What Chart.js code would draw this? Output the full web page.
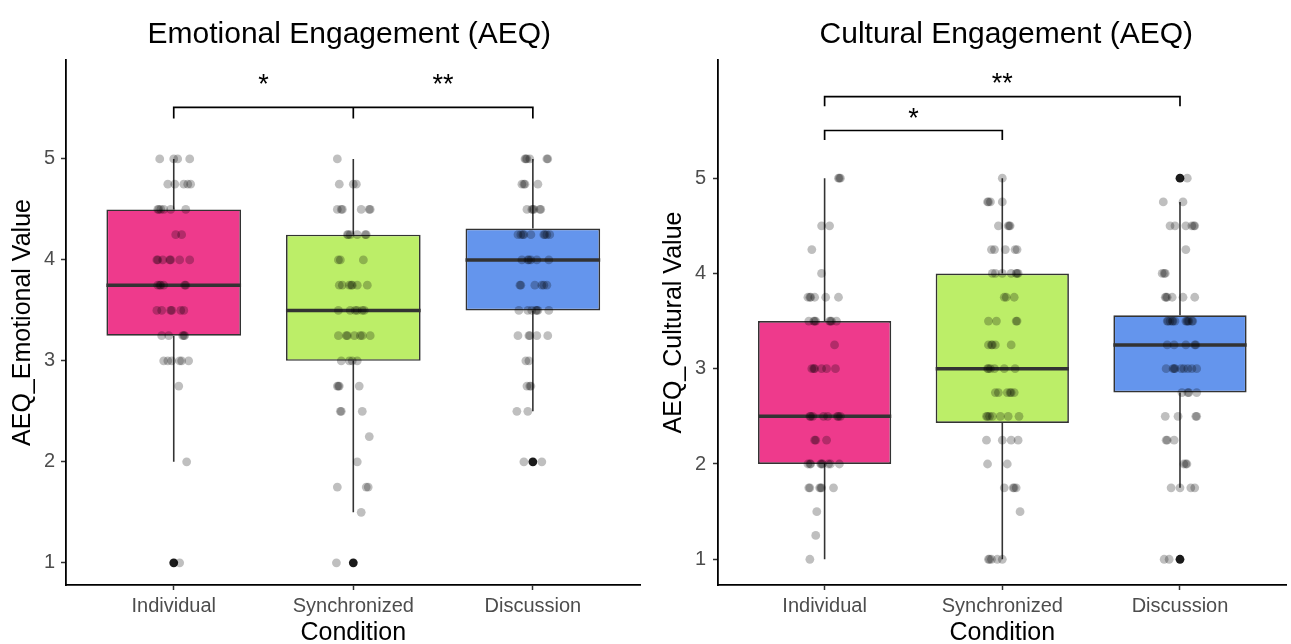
<!DOCTYPE html>
<html>
<head>
<meta charset="utf-8">
<script src="https://cdn.jsdelivr.net/npm/chart.js@4/dist/chart.umd.min.js"></script>
<style>
  html, body { margin: 0; padding: 0; background: #fff; }
  #wrap { position: relative; width: 1291px; height: 644px; }
  canvas { position: absolute; top: 0; }
  #emoChart { left: 0; }
  #culChart { left: 645px; }
</style>
</head>
<body>
<div id="wrap">
  <canvas id="emoChart" width="645" height="644"></canvas>
  <canvas id="culChart" width="646" height="644"></canvas>
</div>
<script>
// ---- data ----
const categories = ['Individual', 'Synchronized', 'Discussion'];
const yTicks = [1, 2, 3, 4, 5];
const boxColors = ['#EE3A8C', '#BCEE68', '#6495ED'];

// Emotional engagement: box stats per condition
const emoLow = [2, 1.5, 2.5];
const emoQ1 = [3.25, 3.0, 3.5];
const emoMed = [3.75, 3.5, 4.0];
const emoQ3 = [4.5, 4.25, 4.31];
const emoHigh = [5, 5, 5];
const emoOutliers = [[1, 1], [2, 1], [3, 2]]; // [condition, value]

// Cultural engagement: box stats per condition
const culLow = [1, 1, 1.75];
const culQ1 = [2, 2.43, 2.75];
const culMed = [2.5, 3, 3.25];
const culQ3 = [3.5, 4, 3.56];
const culHigh = [5, 5, 4.75];
const culOutliers = [[3, 5], [3, 1]];

// jittered responses: [value, jitter in % of a category step]
const emoIndividual = [
  [5,-7.8],[5,0],[5,2.2],[5,8.9],
  [4.75,-3.3],[4.75,0.6],[4.75,5.6],[4.75,7.8],[4.75,9.4],
  [4.5,-8.9],[4.5,-8.3],[4.5,-7.2],[4.5,-5.6],[4.5,-1.7],[4.5,6.7],
  [4.25,1.1],[4.25,4.4],
  [4,-9.4],[4,-8.9],[4,-6.1],[4,-2.2],[4,-1.7],[4,3.3],[4,8.9],
  [3.75,-8.9],[3.75,-7.8],[3.75,-7.2],[3.75,-5.6],[3.75,6.1],[3.75,6.7],
  [3.5,-9.4],[3.5,-6.7],[3.5,-1.7],[3.5,-1.1],[3.5,3.9],[3.5,5.6],
  [3.25,-6.7],[3.25,-2.8],[3.25,5.0],[3.25,5.6],[3.25,6.1],
  [3,-5.6],[3,-3.3],[3,-1.1],[3,3.3],[3,4.4],[3,8.3],
  [2.75,2.8],[2,7.2],[1,3.3]
];
const emoSynchronized = [
  [5,-8.9],
  [4.75,-7.8],[4.75,0],[4.75,1.7],
  [4.5,-8.9],[4.5,-6.7],[4.5,-6.1],[4.5,4.4],[4.5,8.9],[4.5,9.4],
  [4.25,-3.3],[4.25,-2.8],[4.25,-1.7],[4.25,2.2],[4.25,6.7],[4.25,7.2],
  [4,-8.3],[4,-7.2],[4,5.6],
  [3.75,-7.8],[3.75,-6.1],[3.75,-2.2],[3.75,-1.1],[3.75,-0.6],[3.75,2.2],[3.75,7.8],
  [3.5,-8.3],[3.5,-1.7],[3.5,1.1],[3.5,2.2],[3.5,5.0],[3.5,6.1],
  [3.25,-8.3],[3.25,-3.9],[3.25,-3.3],[3.25,0.6],[3.25,3.9],[3.25,5.0],[3.25,9.4],
  [3,-6.7],[3,-2.2],[3,-0.6],[3,2.2],
  [2.75,-8.9],[2.75,-8.3],[2.75,-7.8],[2.75,3.3],
  [2.5,-7.2],[2.5,-6.7],[2.5,5.0],
  [2.25,8.9],[2,2.2],
  [1.75,-8.9],[1.75,7.2],[1.75,8.3],
  [1.5,4.4],[1,-9.4]
];
const emoDiscussion = [
  [5,-4.4],[5,-3.9],[5,-3.3],[5,-1.7],[5,7.8],[5,8.3],
  [4.75,-6.1],[4.75,-5.0],[4.75,-4.4],[4.75,2.8],
  [4.5,-3.3],[4.5,-0.6],[4.5,0],[4.5,0.6],[4.5,3.9],[4.5,4.4],
  [4.25,-8.3],[4.25,-6.7],[4.25,-5.6],[4.25,-5.0],[4.25,-1.1],[4.25,6.1],[4.25,6.7],[4.25,7.8],[4.25,9.4],
  [4,-6.1],[4,-2.8],[4,-2.2],[4,-1.1],[4,2.2],[4,8.9],
  [3.75,-7.2],[3.75,-6.7],[3.75,1.1],[3.75,5.0],[3.75,6.1],[3.75,7.8],
  [3.5,-7.8],[3.5,-2.8],[3.5,-0.6],[3.5,1.7],[3.5,2.2],[3.5,2.8],[3.5,8.9],
  [3.25,-8.3],[3.25,-2.2],[3.25,-1.7],[3.25,2.2],[3.25,8.3],
  [3,-3.9],[3,-2.2],
  [2.75,-3.3],[2.75,-1.7],[2.75,-1.1],
  [2.5,-8.9],[2.5,-2.8],
  [2,-5.0],[2,5.0]
];
const culIndividual = [
  [5,7.8],[5,8.3],[5,8.9],
  [4.5,-1.7],[4.5,2.8],
  [4.25,-7.2],[4,-1.7],
  [3.75,-9.4],[3.75,-8.3],[3.75,-7.8],[3.75,-5.6],[3.75,0.6],[3.75,7.8],
  [3.5,-8.9],[3.5,-6.1],[3.5,-5.6],[3.5,-5.0],[3.5,2.8],[3.5,3.3],[3.5,3.9],[3.5,6.7],
  [3.25,5.6],
  [3,-7.2],[3,-6.1],[3,-5.6],[3,-1.7],[3,1.1],[3,6.1],
  [2.5,-8.3],[2.5,-7.8],[2.5,-6.7],[2.5,-0.6],[2.5,1.7],[2.5,7.2],[2.5,7.8],[2.5,8.9],
  [2.25,-5.6],[2.25,-5.0],[2.25,1.1],
  [2,-9.4],[2,-8.3],[2,-7.8],[2,-2.2],[2,-1.7],[2,-1.1],[2,2.2],[2,3.3],[2,8.3],
  [1.75,-8.9],[1.75,-8.3],[1.75,-2.8],[1.75,-2.2],[1.75,-1.7],[1.75,5.0],
  [1.5,-4.4],[1.25,-5.0],[1,-8.3]
];
const culSynchronized = [
  [5,0],
  [4.75,-8.3],[4.75,-7.8],[4.75,-6.7],[4.75,0],
  [4.5,-2.2],[4.5,3.3],[4.5,3.9],[4.5,4.4],
  [4.25,-6.1],[4.25,-4.4],[4.25,1.7],[4.25,7.2],[4.25,8.3],
  [4,-5.6],[4,-3.9],[4,0],[4,5.0],[4,7.8],[4,8.3],[4,8.9],
  [3.75,1.1],[3.75,2.2],[3.75,6.7],
  [3.5,-7.8],[3.5,-3.3],[3.5,7.8],[3.5,8.3],
  [3.25,-7.8],[3.25,-6.1],[3.25,-5.6],[3.25,-3.9],[3.25,5.0],
  [3,-8.3],[3,-7.8],[3,-6.7],[3,-4.4],[3,1.1],[3,7.2],
  [2.75,-3.9],[2.75,-2.2],[2.75,2.8],[2.75,4.4],[2.75,5.0],[2.75,6.7],
  [2.5,-8.9],[2.5,-8.3],[2.5,-7.2],[2.5,-5.6],[2.5,-1.1],[2.5,3.3],[2.5,9.4],
  [2.25,-8.9],[2.25,0],[2.25,5.0],[2.25,8.9],
  [2,-8.3],[2,2.8],
  [1.75,1.1],[1.75,6.1],[1.75,6.7],[1.75,7.8],
  [1.5,10],
  [1,-7.8],[1,-7.2],[1,-6.1],[1,-2.8],[1,0]
];
const culDiscussion = [
  [5,4.1],
  [4.75,-9.4],[4.75,1.7],
  [4.5,-5.6],[4.5,-2.8],[4.5,3.3],[4.5,6.7],[4.5,7.8],[4.5,8.3],
  [4.25,3.3],
  [4,-10],[4,-8.9],[4,-8.3],
  [3.75,-8.3],[3.75,-7.8],[3.75,-7.2],[3.75,-4.4],[3.75,1.7],[3.75,8.3],
  [3.5,-7.2],[3.5,-6.7],[3.5,-5.6],[3.5,-4.4],[3.5,-3.9],[3.5,-2.8],[3.5,3.3],[3.5,3.9],[3.5,4.4],[3.5,5.0],[3.5,6.7],[3.5,7.2],
  [3.25,-7.2],[3.25,-3.3],[3.25,3.3],[3.25,8.3],[3.25,8.9],
  [3,-7.8],[3,-3.9],[3,-3.3],[3,-2.8],[3,0.6],[3,2.2],[3,4.4],[3,6.7],[3,9.4],
  [2.75,1.1],[2.75,4.4],[2.75,5.0],[2.75,9.4],
  [2.5,-8.3],[2.5,-1.1],[2.5,8.9],[2.5,9.4],
  [2.25,-7.8],[2.25,-7.2],[2.25,-3.3],
  [2,2.2],[2,3.3],[2,3.9],
  [1.75,-5.0],[1.75,0],[1.75,6.1],[1.75,8.3],
  [1,-8.9],[1,-6.1]
];

// significance brackets
const emoSigPairs = [[1, 2], [2, 3]];
const emoSigY = [5.51, 5.51];
const emoSigLabelY = [5.81, 5.81];
const emoSigLabels = ['*', '**'];
const culSigPairs = [[1, 2], [1, 3]];
const culSigY = [5.50, 5.855];
const culSigLabelY = [5.70, 6.07];
const culSigLabels = ['*', '**'];

// ---- drawing ----
const FONT = '"Liberation Sans", Arial, Helvetica, sans-serif';
const BOX_WIDTH = 0.75;

function jitterPoints(groups) {
    const pts = [];
    groups.forEach((g, i) => g.forEach(([v, j]) => pts.push({ x: i + 1 + j / 100, y: v })));
    return pts;
}

// polylines -> one dataset, broken by null gaps
function polylines(lines) {
    const out = [];
    lines.forEach(line => {
        line.forEach(([x, y]) => out.push({ x: x, y: y }));
        out.push({ x: line[0][0], y: null });
    });
    return out;
}

const titlePlugin = {
    id: 'panelTitle',
    afterDraw(chart, args, opts) {
        const { ctx, chartArea } = chart;
        ctx.save();
        ctx.font = `30px ${FONT}`;
        ctx.fillStyle = '#000';
        ctx.textAlign = 'center';
        ctx.textBaseline = 'alphabetic';
        ctx.fillText(opts.text, (chartArea.left + chartArea.right) / 2 + opts.shift, 43);
        ctx.restore();
    }
};

const sigTextPlugin = {
    id: 'sigText',
    afterDatasetsDraw(chart, args, opts) {
        const { ctx, scales } = chart;
        const size = 27;
        ctx.save();
        ctx.font = `${size}px ${FONT}`;
        ctx.fillStyle = '#000';
        ctx.textAlign = 'center';
        ctx.textBaseline = 'alphabetic';
        opts.labels.forEach((t, k) => {
            const px = scales.x.getPixelForValue((opts.pairs[k][0] + opts.pairs[k][1]) / 2);
            const py = scales.y.getPixelForValue(opts.labelY[k]) + 0.58 * size;
            ctx.fillText(t, px, py);
        });
        ctx.restore();
    }
};

function makePanel(id, o) {
    const boxes = o.q1.map((q, i) => ({ x: i + 1, y: [q, o.q3[i]] }));
    const medians = polylines(o.med.map((m, i) => [[i + 1 - BOX_WIDTH / 2, m], [i + 1 + BOX_WIDTH / 2, m]]));
    const whiskers = polylines(o.low.flatMap((l, i) => [
        [[i + 1, l], [i + 1, o.q1[i]]],
        [[i + 1, o.q3[i]], [i + 1, o.high[i]]]
    ]));
    const brackets = polylines(o.sigPairs.map(([a, b], k) => [
        [a, o.sigY[k] - o.tip], [a, o.sigY[k]], [b, o.sigY[k]], [b, o.sigY[k] - o.tip]
    ]));
    const axisGrid = { drawOnChartArea: false, drawTicks: true, offset: false, tickLength: 5, tickColor: '#333', tickWidth: 1.5 };
    const axisBorder = { display: true, color: '#000', width: 1.8 };

    new Chart(document.getElementById(id), {
        type: 'scatter',
        data: {
            datasets: [
                { type: 'scatter', data: jitterPoints(o.groups), pointRadius: 4.4, pointBackgroundColor: 'rgba(0,0,0,0.25)', pointBorderWidth: 0, order: 0 },
                { type: 'scatter', data: o.outliers.map(([c, v]) => ({ x: c, y: v })), pointRadius: 4.4, pointBackgroundColor: '#1a1a1a', pointBorderWidth: 0, order: 1 },
                { type: 'scatter', data: medians, showLine: true, spanGaps: false, borderColor: '#333', borderWidth: 3.5, pointRadius: 0, order: 2 },
                { type: 'bar', data: boxes, backgroundColor: boxColors, borderColor: '#333', borderWidth: 1.7, borderSkipped: false, barPercentage: BOX_WIDTH, categoryPercentage: 1, order: 3 },
                { type: 'scatter', data: whiskers, showLine: true, spanGaps: false, borderColor: '#333', borderWidth: 1.6, pointRadius: 0, order: 4 },
                { type: 'scatter', data: brackets, showLine: true, spanGaps: false, borderColor: '#000', borderWidth: 1.7, pointRadius: 0, order: 5 }
            ]
        },
        options: {
            responsive: false,
            animation: false,
            events: [],
            layout: { padding: { top: 60, right: o.padRight, left: 0, bottom: 0 } },
            plugins: {
                legend: { display: false },
                tooltip: { enabled: false },
                panelTitle: { text: o.title, shift: o.titleShift },
                sigText: { pairs: o.sigPairs, labels: o.sigLabels, labelY: o.sigLabelY }
            },
            scales: {
                x: {
                    type: 'linear', min: 0.4, max: 3.6, offset: false,
                    afterBuildTicks: s => { s.ticks = categories.map((c, i) => ({ value: i + 1 })); },
                    afterFit: s => { s.height = 59; },
                    ticks: { callback: v => categories[v - 1], color: '#4d4d4d', font: { family: FONT, size: 20 }, padding: 4, maxRotation: 0, autoSkip: false },
                    grid: axisGrid,
                    border: axisBorder,
                    title: { display: true, text: 'Condition', color: '#000', font: { family: FONT, size: 25, lineHeight: 1 }, padding: { top: 0, bottom: -2 } }
                },
                y: {
                    type: 'linear', min: o.yMin, max: o.yMax,
                    afterBuildTicks: s => { s.ticks = yTicks.map(v => ({ value: v })); },
                    afterFit: s => { s.width = o.axisLeft; },
                    ticks: { color: '#4d4d4d', font: { family: FONT, size: 20 }, padding: o.tickPad },
                    grid: axisGrid,
                    border: axisBorder,
                    title: { display: true, text: o.yTitle, color: '#000', font: { family: FONT, size: 25, lineHeight: 1 }, padding: { top: o.yTitlePad, bottom: 0 } }
                }
            }
        },
        plugins: [titlePlugin, sigTextPlugin]
    });
}

makePanel('emoChart', {
    title: 'Emotional Engagement (AEQ)', yTitle: 'AEQ_Emotional Value', titleShift: -4,
    low: emoLow, q1: emoQ1, med: emoMed, q3: emoQ3, high: emoHigh, outliers: emoOutliers,
    groups: [emoIndividual, emoSynchronized, emoDiscussion],
    sigPairs: emoSigPairs, sigY: emoSigY, sigLabels: emoSigLabels, sigLabelY: emoSigLabelY, tip: 0.11,
    yMin: 0.78, yMax: 5.98, axisLeft: 66, padRight: 4, tickPad: 6, yTitlePad: 10.5
});

makePanel('culChart', {
    title: 'Cultural Engagement (AEQ)', yTitle: 'AEQ_Cultural Value', titleShift: 4,
    low: culLow, q1: culQ1, med: culMed, q3: culQ3, high: culHigh, outliers: culOutliers,
    groups: [culIndividual, culSynchronized, culDiscussion],
    sigPairs: culSigPairs, sigY: culSigY, sigLabels: culSigLabels, sigLabelY: culSigLabelY, tip: 0.10,
    yMin: 0.73, yMax: 6.24, axisLeft: 73, padRight: 1, tickPad: 7, yTitlePad: 16.5
});
</script>
</body>
</html>
